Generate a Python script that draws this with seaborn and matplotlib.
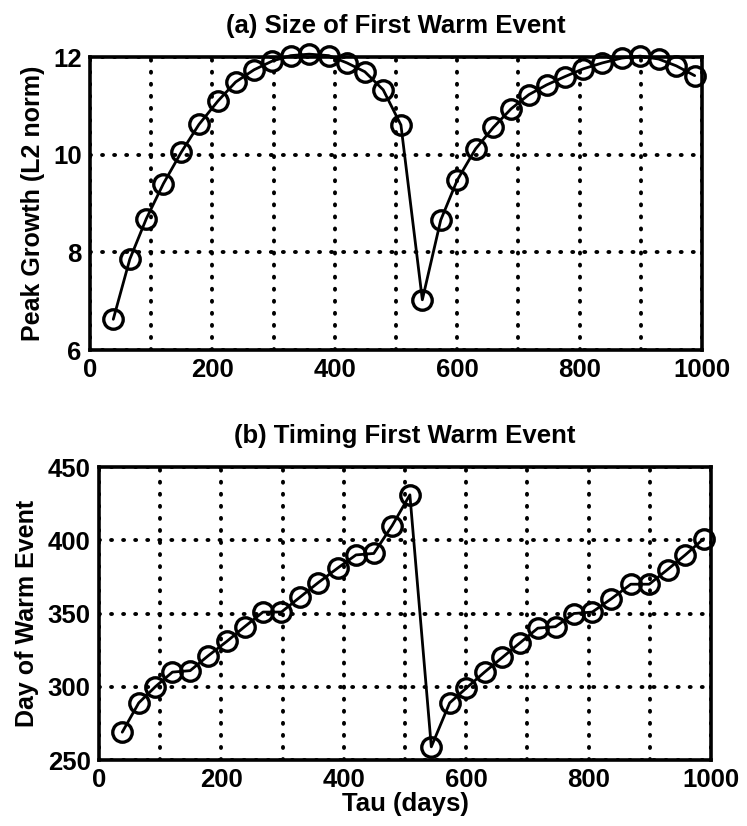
import matplotlib
matplotlib.use("Agg")
import matplotlib.pyplot as plt
import seaborn as sns
import pandas as pd

# ---- data ----
tau = [38, 65, 92, 120, 149, 178, 209, 238, 268, 298, 328, 358, 390, 420, 449,
       479, 508, 543, 573, 600, 630, 659, 688, 717, 746, 776, 806, 837, 869,
       899, 929, 958, 988]
peak_growth = [6.63, 7.86, 8.69, 9.41, 10.05, 10.62, 11.10, 11.49, 11.74, 11.92,
               12.03, 12.06, 12.03, 11.88, 11.70, 11.33, 10.61,
               7.03, 8.66, 9.48, 10.12, 10.56, 10.94, 11.23, 11.43, 11.60,
               11.76, 11.88, 11.98, 12.02, 11.96, 11.82, 11.62]
warm_day = [269, 289, 300, 310, 311, 321, 331, 341, 351, 351, 361, 371, 381,
            390, 391, 410, 431,
            259, 289, 299, 310, 320, 330, 340, 341, 350, 351, 360, 370, 370,
            380, 390, 401]

x_ticks = [0, 100, 200, 300, 400, 500, 600, 700, 800, 900, 1000]
x_ticklabels = ["0", "", "200", "", "400", "", "600", "", "800", "", "1000"]
top_yticks = [6, 8, 10, 12]
bot_yticks = [250, 300, 350, 400, 450]

df = pd.DataFrame({"tau": tau, "peak": peak_growth, "day": warm_day})

sns.set_style("white")
plt.rcParams["font.family"] = ["Liberation Sans", "DejaVu Sans"]
plt.rcParams["font.weight"] = "bold"
plt.rcParams["axes.labelweight"] = "bold"
plt.rcParams["axes.titleweight"] = "bold"
plt.rcParams["text.color"] = "black"
plt.rcParams["axes.labelcolor"] = "black"
plt.rcParams["axes.titlecolor"] = "black"

FS = 18.5
fig = plt.figure(figsize=(7.47, 8.26), dpi=100)
ax1 = fig.add_axes([0.1205, 0.5762, 0.8193, 0.3547])
ax2 = fig.add_axes([0.1325, 0.0799, 0.8193, 0.3547])

def style(ax, ycol, yticks, ylim, title, ylabel, xlabel=None):
    sns.lineplot(data=df, x="tau", y=ycol, ax=ax, color="black", lw=2.0,
                 marker="o", markersize=14, markerfacecolor="none",
                 markeredgecolor="black", markeredgewidth=2.4,
                 clip_on=False, zorder=5)
    ax.set_xlim(0, 1000)
    ax.set_ylim(*ylim)
    ax.set_xticks(x_ticks)
    ax.set_xticklabels(x_ticklabels)
    ax.set_yticks(yticks)
    ax.set_yticklabels([str(v) for v in yticks])
    ax.tick_params(direction="in", length=4, width=1.5, labelsize=FS,
                   pad=6, colors="black")
    for lab in ax.get_xticklabels() + ax.get_yticklabels():
        lab.set_fontweight("bold")
    ax.grid(True, color="black", linestyle=(0, (0.25, 2.85)), linewidth=2.8)
    for line in ax.get_xgridlines() + ax.get_ygridlines():
        line.set_dash_capstyle("round")
    for s in ax.spines.values():
        s.set_color("black")
        s.set_linewidth(2.6)
    ax.set_title(title, fontsize=FS, fontweight="bold", pad=17, color="black")
    ax.set_ylabel(ylabel, fontsize=18, fontweight="bold", labelpad=6,
                  color="black")
    if xlabel:
        ax.set_xlabel(xlabel, fontsize=FS, fontweight="bold", labelpad=0,
                      color="black")
    else:
        ax.set_xlabel("")

style(ax1, "peak", top_yticks, (6, 12), "(a) Size of First Warm Event",
      "Peak Growth (L2 norm)")
style(ax2, "day", bot_yticks, (250, 450), "(b) Timing First Warm Event",
      "Day of Warm Event", "Tau (days)")

fig.savefig("out.png", dpi=100)
